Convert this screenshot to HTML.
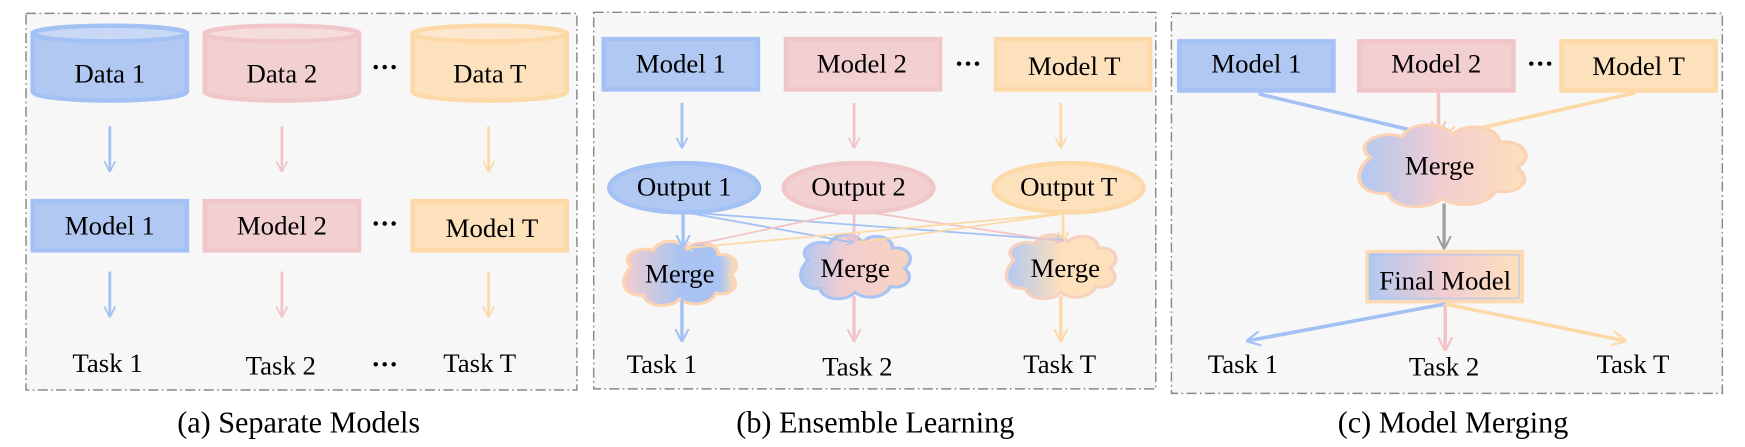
<!DOCTYPE html>
<html><head><meta charset="utf-8"><style>
html,body{margin:0;padding:0;background:#fff;}
svg{display:block;}
text{font-family:"Liberation Serif",serif;fill:#000;}
</style></head><body>
<svg width="1745" height="447" viewBox="0 0 1561 400" xmlns="http://www.w3.org/2000/svg">
<defs>
<marker id="ab" viewBox="0 0 10 10" refX="9" refY="5" markerWidth="4" markerHeight="6" orient="auto" markerUnits="strokeWidth"><path d="M0,0 L10,5 L0,10" fill="none" stroke="#a3c1f4" stroke-width="1.5"/></marker>
<marker id="ap" viewBox="0 0 10 10" refX="9" refY="5" markerWidth="4" markerHeight="6" orient="auto" markerUnits="strokeWidth"><path d="M0,0 L10,5 L0,10" fill="none" stroke="#f2c4c6" stroke-width="1.5"/></marker>
<marker id="ao" viewBox="0 0 10 10" refX="9" refY="5" markerWidth="4" markerHeight="6" orient="auto" markerUnits="strokeWidth"><path d="M0,0 L10,5 L0,10" fill="none" stroke="#fdd9a8" stroke-width="1.5"/></marker>
<marker id="ag" viewBox="0 0 10 10" refX="9" refY="5" markerWidth="4" markerHeight="6" orient="auto" markerUnits="strokeWidth"><path d="M0,0 L10,5 L0,10" fill="none" stroke="#a0a0a0" stroke-width="1.5"/></marker>
<linearGradient id="g1" x1="0" x2="1"><stop offset="0" stop-color="#b0c8f2"/><stop offset="0.5" stop-color="#f2cdd0"/><stop offset="1" stop-color="#fde0bc"/></linearGradient>
<linearGradient id="gb" x1="0" x2="1"><stop offset="0" stop-color="#f2cdd0"/><stop offset="0.5" stop-color="#a9c4f2"/><stop offset="0.85" stop-color="#a9c4f2"/><stop offset="1" stop-color="#fde0bc"/></linearGradient>
<linearGradient id="gp" x1="0" x2="1"><stop offset="0" stop-color="#b0c8f2"/><stop offset="0.4" stop-color="#f2cdd0"/><stop offset="1" stop-color="#f8d3c0"/></linearGradient>
<linearGradient id="go" x1="0" x2="1"><stop offset="0" stop-color="#b0c8f2"/><stop offset="0.5" stop-color="#fde0bc"/><stop offset="1" stop-color="#fde0bc"/></linearGradient>
<path id="cloud" d="M-40,-8 C-50,-18 -35,-30 -22,-24 C-18,-36 0,-36 6,-26 C14,-36 32,-32 32,-20 C46,-22 52,-8 42,0 C52,10 42,22 30,18 C26,30 8,32 0,24 C-8,34 -28,32 -30,20 C-46,22 -52,6 -40,-8 Z"/>
<g id="dots"><circle cx="-8" cy="0" r="2"/><circle cx="0" cy="0" r="2"/><circle cx="8" cy="0" r="2"/></g>
</defs>
<g stroke="#888" stroke-width="1.3" stroke-dasharray="9,3,1.5,3" fill="#f7f7f7">
<rect x="23" y="12" width="493" height="337"/>
<rect x="531" y="11" width="503" height="337"/>
<rect x="1048" y="12" width="493" height="340"/>
</g>
<!-- Panel a -->
<g stroke-width="4">
<path d="M29,30 L29,82 A69,8 0 0 0 167,82 L167,30 Z" fill="#b0c8f2" stroke="#a3c1f4"/>
<ellipse cx="98" cy="30" rx="69" ry="7" fill="#c8d8f5" stroke="#a3c1f4"/>
<path d="M183,30 L183,82 A69,8 0 0 0 321,82 L321,30 Z" fill="#f2d0d2" stroke="#f0c6c9"/>
<ellipse cx="252" cy="30" rx="69" ry="7" fill="#f5dcdd" stroke="#f0c6c9"/>
<path d="M369,30 L369,82 A69,8 0 0 0 507,82 L507,30 Z" fill="#fde0bc" stroke="#fdd9a8"/>
<ellipse cx="438" cy="30" rx="69" ry="7" fill="#fde8cf" stroke="#fdd9a8"/>
<rect x="29" y="180" width="138" height="44" fill="#b0c8f2" stroke="#a3c1f4"/>
<rect x="183" y="180" width="138" height="44" fill="#f2d0d2" stroke="#f0c6c9"/>
<rect x="369" y="180" width="138" height="44" fill="#fde0bc" stroke="#fdd9a8"/>
</g>
<g font-size="24" text-anchor="middle">
<text x="98" y="74">Data 1</text><text x="252" y="74">Data 2</text><text x="438" y="74">Data T</text>
<text x="98" y="210">Model 1</text><text x="252" y="210">Model 2</text><text x="440" y="212">Model T</text>
<text x="96" y="333">Task 1</text><text x="251" y="335">Task 2</text><text x="429" y="333">Task T</text>
</g>
<use href="#dots" x="344" y="60"/><use href="#dots" x="344" y="200"/><use href="#dots" x="344" y="326"/>
<g stroke-width="2.5" fill="none">
<line x1="98" y1="113" x2="98" y2="153" stroke="#a3c1f4" marker-end="url(#ab)"/>
<line x1="252" y1="113" x2="252" y2="153" stroke="#f2c4c6" marker-end="url(#ap)"/>
<line x1="437" y1="113" x2="437" y2="153" stroke="#fdd9a8" marker-end="url(#ao)"/>
<line x1="98" y1="243" x2="98" y2="283" stroke="#a3c1f4" marker-end="url(#ab)"/>
<line x1="252" y1="243" x2="252" y2="283" stroke="#f2c4c6" marker-end="url(#ap)"/>
<line x1="437" y1="243" x2="437" y2="283" stroke="#fdd9a8" marker-end="url(#ao)"/>
</g>
<text x="267" y="387" font-size="27" text-anchor="middle">(a) Separate Models</text>
<!-- Panel b -->
<g stroke-width="4">
<rect x="540" y="35" width="138" height="45" fill="#b0c8f2" stroke="#a3c1f4"/>
<rect x="703" y="35" width="138" height="45" fill="#f2d0d2" stroke="#f0c6c9"/>
<rect x="891" y="35" width="138" height="45" fill="#fde0bc" stroke="#fdd9a8"/>
<ellipse cx="612" cy="168" rx="67" ry="22" fill="#b0c8f2" stroke="#a3c1f4"/>
<ellipse cx="768" cy="168" rx="67" ry="22" fill="#f2d0d2" stroke="#f0c6c9"/>
<ellipse cx="956" cy="168" rx="67" ry="22" fill="#fde0bc" stroke="#fdd9a8"/>
</g>
<g stroke-width="3">
<use href="#cloud" transform="translate(608,246) scale(1.08,0.9)" fill="url(#gb)" stroke="#fdd3b0"/>
<use href="#cloud" transform="translate(765,240) scale(1.05,0.9)" fill="url(#gp)" stroke="#a9c4f2"/>
<use href="#cloud" transform="translate(949,240) scale(1.05,0.9)" fill="url(#go)" stroke="#f8d0c0"/>
</g>
<g font-size="24" text-anchor="middle">
<text x="609" y="65">Model 1</text><text x="771" y="65">Model 2</text><text x="961" y="67">Model T</text>
<text x="612" y="175">Output 1</text><text x="768" y="175">Output 2</text><text x="956" y="175">Output T</text>
<text x="608" y="253">Merge</text><text x="765" y="248">Merge</text><text x="953" y="248">Merge</text>
<text x="592" y="334">Task 1</text><text x="767" y="336">Task 2</text><text x="948" y="334">Task T</text>
</g>
<use href="#dots" x="866" y="57"/>
<g stroke-width="2.5" fill="none">
<line x1="610" y1="92" x2="610" y2="132" stroke="#a3c1f4" marker-end="url(#ab)"/>
<line x1="764" y1="92" x2="764" y2="132" stroke="#f2c4c6" marker-end="url(#ap)"/>
<line x1="949" y1="92" x2="949" y2="132" stroke="#fdd9a8" marker-end="url(#ao)"/>
<line x1="611" y1="190" x2="611" y2="221" stroke="#a3c1f4" stroke-width="3" marker-end="url(#ab)"/>
<line x1="764" y1="190" x2="764" y2="217" stroke="#f2c4c6" marker-end="url(#ap)"/>
<line x1="951" y1="190" x2="951" y2="216" stroke="#fdd9a8" marker-end="url(#ao)"/>
<g stroke-width="1.6">
<line x1="613" y1="190" x2="763" y2="217" stroke="#a3c1f4" marker-end="url(#ab)"/>
<line x1="613" y1="190" x2="951" y2="215" stroke="#a3c1f4" marker-end="url(#ab)"/>
<line x1="757" y1="190" x2="612" y2="221" stroke="#f2c4c6" marker-end="url(#ap)"/>
<line x1="777" y1="190" x2="949" y2="216" stroke="#f2c4c6" marker-end="url(#ap)"/>
<line x1="953" y1="191" x2="614" y2="222" stroke="#fdd9a8" marker-end="url(#ao)"/>
<line x1="953" y1="191" x2="769" y2="217" stroke="#fdd9a8" marker-end="url(#ao)"/>
</g>
<line x1="610" y1="268" x2="610" y2="305" stroke="#a3c1f4" stroke-width="3" marker-end="url(#ab)"/>
<line x1="764" y1="265" x2="764" y2="305" stroke="#f2c4c6" stroke-width="3" marker-end="url(#ap)"/>
<line x1="949" y1="265" x2="949" y2="305" stroke="#fdd9a8" stroke-width="3" marker-end="url(#ao)"/>
</g>
<text x="783" y="387" font-size="27" text-anchor="middle">(b) Ensemble Learning</text>
<!-- Panel c -->
<g stroke-width="4">
<rect x="1055" y="37" width="138" height="44" fill="#b0c8f2" stroke="#a3c1f4"/>
<rect x="1216" y="37" width="138" height="44" fill="#f2d0d2" stroke="#f0c6c9"/>
<rect x="1397" y="37" width="138" height="44" fill="#fde0bc" stroke="#fdd9a8"/>
</g>
<g stroke-width="3.2" fill="none">
<line x1="1287" y1="83" x2="1287" y2="120" stroke="#f2c4c6" marker-end="url(#ap)"/>
<line x1="1126" y1="84" x2="1286" y2="122" stroke="#a3c1f4" marker-end="url(#ab)"/>
<line x1="1463" y1="83" x2="1292" y2="122" stroke="#fdd9a8" marker-end="url(#ao)"/>
</g>
<use href="#cloud" transform="translate(1290,150) scale(1.6,1.15)" fill="url(#g1)" stroke="#fcd2b4" stroke-width="2.2"/>
<line x1="1292" y1="182" x2="1292" y2="222" stroke="#a0a0a0" stroke-width="3" marker-end="url(#ag)"/>
<rect x="1223" y="225" width="139" height="45" fill="url(#g1)" stroke="#fcd9b0" stroke-width="3"/>
<rect x="1226" y="228" width="133" height="39" fill="none" stroke="#a9c4f2" stroke-width="1.5" stroke-opacity="0.6"/>
<g stroke-width="3.2" fill="none">
<line x1="1293" y1="272" x2="1116" y2="305" stroke="#a3c1f4" marker-end="url(#ab)"/>
<line x1="1293" y1="272" x2="1293" y2="313" stroke="#f2c4c6" marker-end="url(#ap)"/>
<line x1="1293" y1="272" x2="1454" y2="305" stroke="#fdd9a8" marker-end="url(#ao)"/>
</g>
<g font-size="24" text-anchor="middle">
<text x="1124" y="65">Model 1</text><text x="1285" y="65">Model 2</text><text x="1466" y="67">Model T</text>
<text x="1288" y="156">Merge</text>
<text x="1293" y="259">Final Model</text>
<text x="1112" y="334">Task 1</text><text x="1292" y="336">Task 2</text><text x="1461" y="334">Task T</text>
</g>
<use href="#dots" x="1378" y="57"/>
<text x="1300" y="387" font-size="27" text-anchor="middle">(c) Model Merging</text>
</svg>
</body></html>
